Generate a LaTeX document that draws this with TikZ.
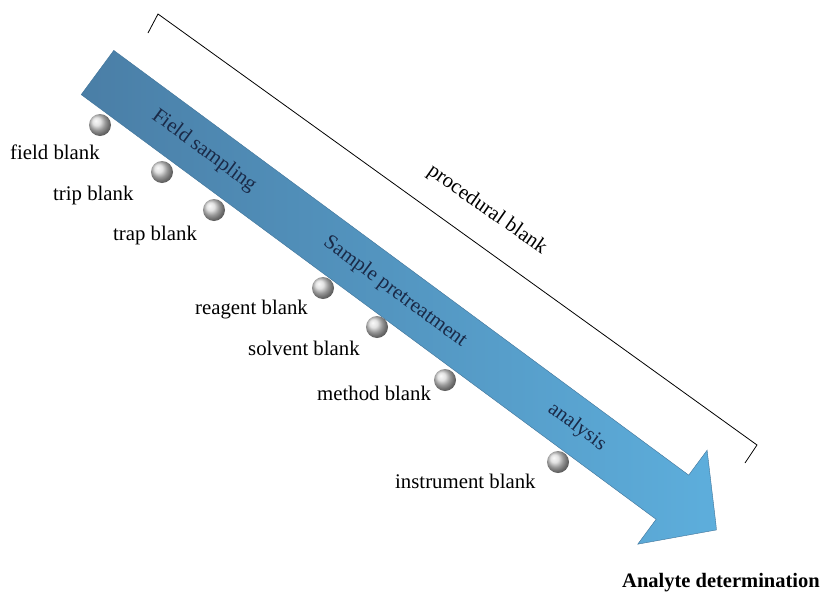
\documentclass[tikz,border=0pt]{standalone}
\usepackage{fontspec}
\setmainfont{Liberation Serif}
\usetikzlibrary{shadings}
\definecolor{arrowdark}{HTML}{4A7EA6}
\definecolor{arrowlight}{HTML}{5DAEDC}
\definecolor{arrowedge}{HTML}{3F7399}
\definecolor{navytext}{HTML}{1A2A48}
\begin{document}
\begin{tikzpicture}[x=1pt,y=-1pt,
  lbl/.style={anchor=base west, inner sep=0pt, font=\fontsize{20.8}{24}\selectfont},
  stage/.style={inner sep=0pt, rotate=-36.45, text=navytext, font=\fontsize{20.8}{24}\selectfont},
  ball/.style={circle, minimum size=22pt, inner sep=0pt, ball color=gray!30, draw=none}]
\useasboundingbox (0,0) rectangle (825,592);
% big arrow
\shade[left color=arrowdark, right color=arrowlight, draw=arrowedge, line width=0.4pt]
  (113.8,50.4) -- (688.7,475.1) -- (707.1,450.2) -- (716.6,529.9)
  -- (637.7,544.2) -- (656.1,519.3) -- (81.2,94.6) -- cycle;
% stage texts
\node[stage] (fs) at (204,151) {Field sampling};
\node[stage] (sp) at (395,292) {Sample pretreatment};
\node[stage] (an) at (577,427) {analysis};
% bracket
\coordinate (br1) at (148,33);
\coordinate (br2) at (158,14);
\coordinate (br3) at (757,445);
\coordinate (br4) at (745,463);
\draw[line width=0.8pt] (br1) -- (br2) -- (br3) -- (br4);
\node[inner sep=0pt, rotate=-35, font=\fontsize{20.8}{24}\selectfont] (pb) at (487,210) {procedural blank};
% balls
\node[ball] (b1) at (100,125) {};
\node[ball] (b2) at (162,172) {};
\node[ball] (b3) at (214,210) {};
\node[ball] (b4) at (323,288) {};
\node[ball] (b5) at (377,327) {};
\node[ball] (b6) at (445,380) {};
\node[ball] (b7) at (558,462) {};
% labels
\node[lbl] (l1) at (10,159) {field blank};
\node[lbl] (l2) at (53,200) {trip blank};
\node[lbl] (l3) at (113,240) {trap blank};
\node[lbl] (l4) at (195,314) {reagent blank};
\node[lbl] (l5) at (248,355) {solvent blank};
\node[lbl] (l6) at (317,400) {method blank};
\node[lbl] (l7) at (395,488) {instrument blank};
\node[lbl, font=\fontsize{20.5}{24}\selectfont\bfseries] (ad) at (622,587) {Analyte determination};
\end{tikzpicture}
\end{document}
